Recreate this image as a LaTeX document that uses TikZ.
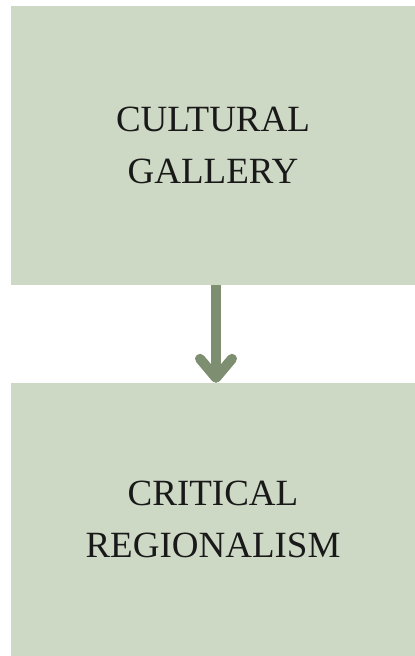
\documentclass[tikz,border=0pt]{standalone}
\usepackage{fontspec}
\setmainfont{Liberation Serif}
\usetikzlibrary{arrows.meta}
\definecolor{boxfill}{HTML}{CDD9C5}
\definecolor{arrowcol}{HTML}{7E8E70}
\begin{document}
\begin{tikzpicture}[x=1pt,y=-1pt,
  box/.style={fill=boxfill, draw=none, minimum width=404pt, inner sep=0pt,
    align=center, font=\fontsize{37}{52}\selectfont, text=black!90},
  flow/.style={draw=arrowcol, line width=10pt,
    -{Straight Barb[round, length=19pt, width=32pt]}}]
\useasboundingbox (0,0) rectangle (415,656);
\node[box, minimum height=279pt] (a) at (213,145.5) {CULTURAL\\GALLERY};
\node[box, minimum height=273pt] (b) at (213,519.5) {CRITICAL\\REGIONALISM};
\draw[flow] ([xshift=3pt]a.south) -- ([xshift=3pt]b.north);
\end{tikzpicture}
\end{document}
